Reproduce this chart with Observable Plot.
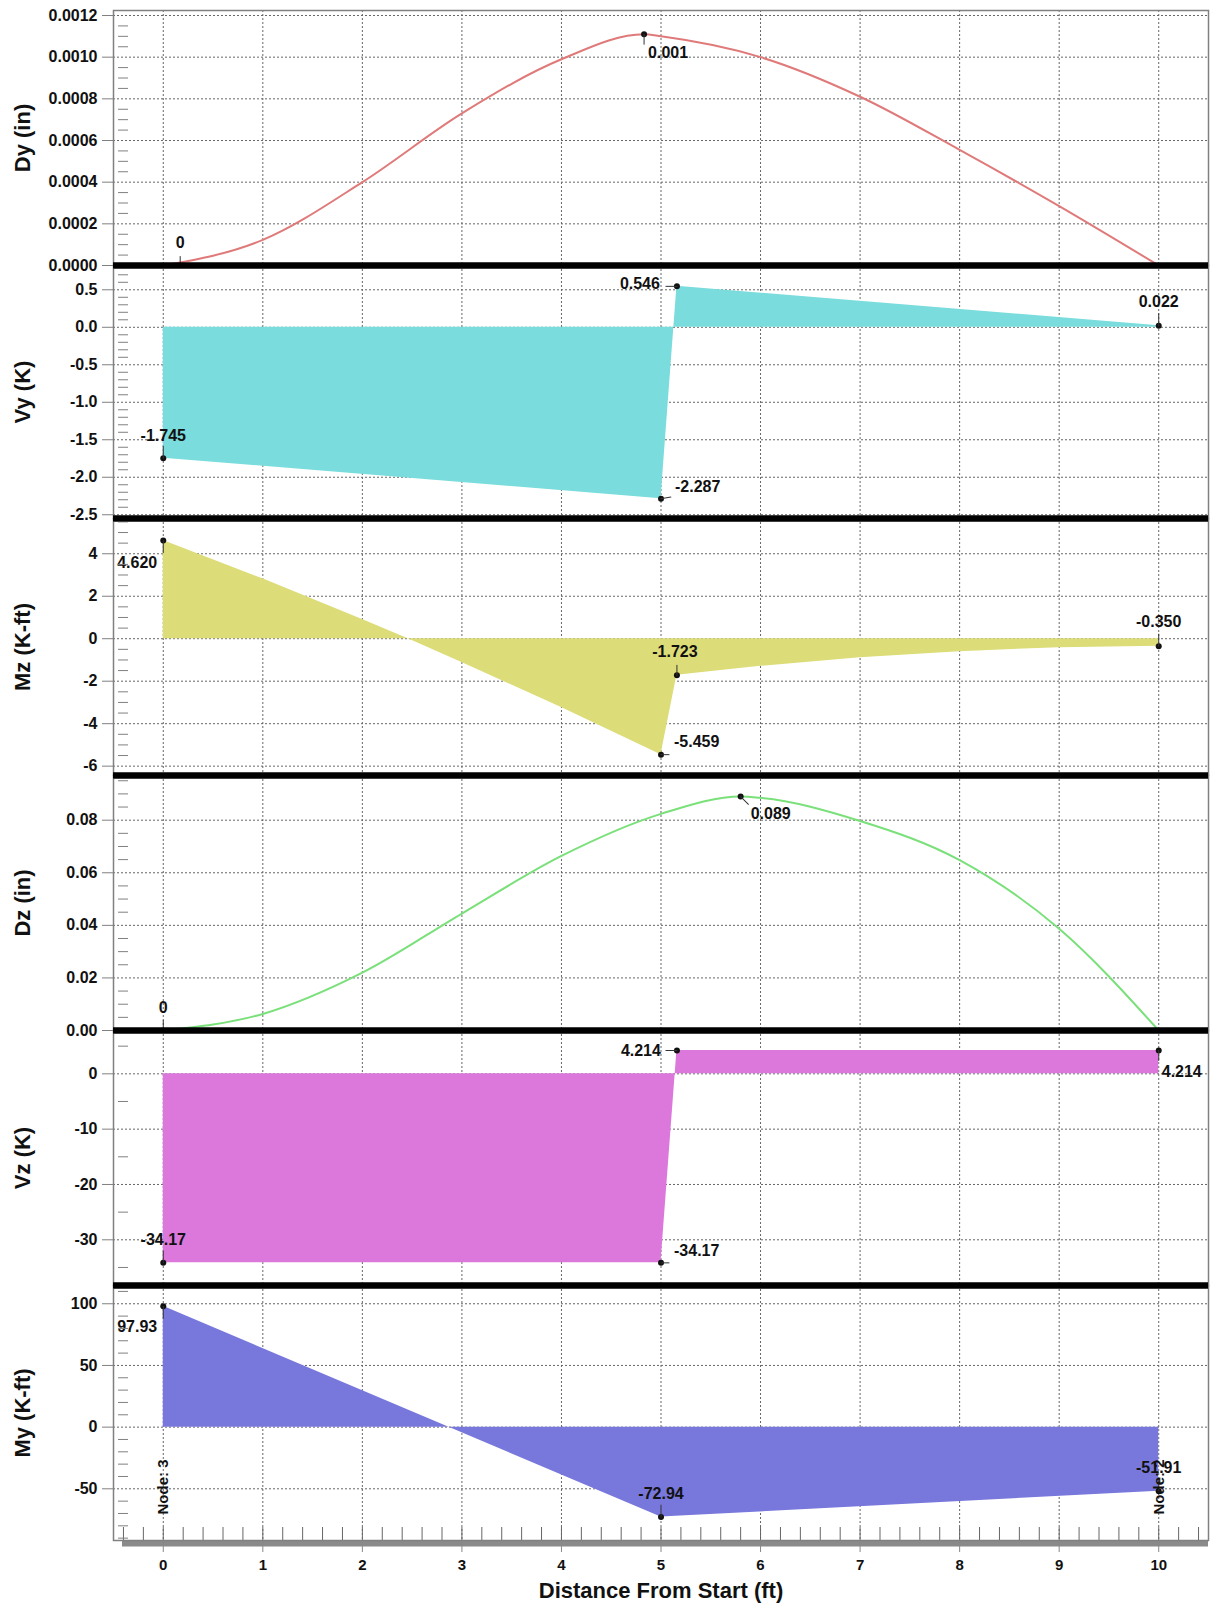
<!DOCTYPE html>
<html>
<head>
<meta charset="utf-8">
<script src="https://cdn.jsdelivr.net/npm/d3@7"></script>
<script src="https://cdn.jsdelivr.net/npm/@observablehq/plot@0.6"></script>
<style>
  body { margin: 0; background: #fff; }
  #chart { width: 1211px; position: relative; }
  #chart svg { display: block; overflow: visible; }
</style>
</head>
<body>
<div id="chart"></div>
<script>
// ---------------- data ----------------
const xTicks = [0, 1, 2, 3, 4, 5, 6, 7, 8, 9, 10];
const xTickLabels = ["0", "1", "2", "3", "4", "5", "6", "7", "8", "9", "10"];
const xTitle = "Distance From Start (ft)";

// Dy (in)
const dyX   = [0, 1, 2, 3, 4, 4.83, 5, 6, 7, 8, 9, 10];
const dyVal = [0, 0.000123, 0.0004, 0.00073, 0.00099, 0.00111, 0.0011, 0.001, 0.00081, 0.000555, 0.000285, 0];
const dyNotes = [
  {x: 0.17, y: 0, label: "0"},
  {x: 4.83, y: 0.00111, label: "0.001"}
];
const dyTicks = [0, 0.0002, 0.0004, 0.0006, 0.0008, 0.0010, 0.0012];

// Vy (K)
const vyX   = [0, 5, 5.16, 10];
const vyVal = [-1.745, -2.287, 0.546, 0.022];
const vyNotes = [
  {x: 0, y: -1.745, label: "-1.745"},
  {x: 5, y: -2.287, label: "-2.287"},
  {x: 5.16, y: 0.546, label: "0.546"},
  {x: 10, y: 0.022, label: "0.022"}
];
const vyTicks = [0.5, 0, -0.5, -1, -1.5, -2, -2.5];

// Mz (K-ft)
const mzX   = [0, 1, 2, 2.46, 3, 4, 5, 5.16, 6, 7, 8, 9, 10];
const mzVal = [4.62, 2.82, 0.9, 0, -1.12, -3.24, -5.459, -1.723, -1.3, -0.9, -0.61, -0.42, -0.35];
const mzNotes = [
  {x: 0, y: 4.62, label: "4.620"},
  {x: 5.16, y: -1.723, label: "-1.723"},
  {x: 5, y: -5.459, label: "-5.459"},
  {x: 10, y: -0.35, label: "-0.350"}
];
const mzTicks = [4, 2, 0, -2, -4, -6];

// Dz (in)
const dzX   = [0, 1, 2, 3, 4, 5, 5.8, 6, 7, 8, 9, 10];
const dzVal = [0, 0.0063, 0.022, 0.0445, 0.0664, 0.0824, 0.089, 0.0885, 0.0797, 0.0648, 0.0387, 0];
const dzNotes = [
  {x: 0, y: 0, label: "0"},
  {x: 5.8, y: 0.089, label: "0.089"}
];
const dzTicks = [0, 0.02, 0.04, 0.06, 0.08];

// Vz (K)
const vzX   = [0, 5, 5.16, 10];
const vzVal = [-34.17, -34.17, 4.214, 4.214];
const vzNotes = [
  {x: 0, y: -34.17, label: "-34.17"},
  {x: 5, y: -34.17, label: "-34.17"},
  {x: 5.16, y: 4.214, label: "4.214"},
  {x: 10, y: 4.214, label: "4.214"}
];
const vzTicks = [0, -10, -20, -30];

// My (K-ft)
const myX   = [0, 5, 10];
const myVal = [97.93, -72.94, -51.91];
const myNotes = [
  {x: 0, y: 97.93, label: "97.93"},
  {x: 5, y: -72.94, label: "-72.94"},
  {x: 10, y: -51.91, label: "-51.91"}
];
const myTicks = [100, 50, 0, -50];

const nodeLabels = [{x: 0, label: "Node: 3"}, {x: 10, label: "Node: 2"}];

// ---------------- layout / style ----------------
const FONT = "'Liberation Sans', Arial, Helvetica, sans-serif";
const GRID = "#666";
const AXIS = "#808080";
const W = 1211, ML = 113, MR = 3;

// leader line shape for annotation ticks
const leader = {draw(ctx, l) { ctx.moveTo(0, 0); ctx.lineTo(0, -l); }};

function rows(xs, ys) { return xs.map((x, i) => ({x, y: ys[i]})); }
function minorRange(lo, hi, step) {
  const out = [];
  for (let k = Math.ceil(lo / step - 1e-9); k * step <= hi + 1e-9; k++) out.push(+(k * step).toFixed(6));
  return out;
}

// per-annotation placement: text offset, anchor, leader direction/length
function noteMarks(notes, layout) {
  const out = [];
  notes.forEach((n, i) => {
    const L = layout[i];
    if (L.dot !== false) out.push(Plot.dot([n], {x: "x", y: "y", r: 3, fill: "#111"}));
    out.push(Plot.vector([n], {x: "x", y: "y", length: L.len, rotate: L.rot, anchor: "start",
      shape: leader, stroke: "#333", strokeWidth: 1}));
    out.push(Plot.text([n], {x: "x", y: "y", text: "label", dx: L.dx || 0, dy: L.dy || 0,
      textAnchor: L.anchor || "middle", fontSize: 16, fontWeight: "bold", fill: "#111"}));
  });
  return out;
}

function panel({height, marginTop = 0, marginBottom = 0, domain, ticks, fmt, minorStep, title, marks, first = false, last = false}) {
  const minor = minorRange(domain[0], domain[1], minorStep).filter(v => !ticks.some(t => Math.abs(t - v) < minorStep / 10));
  return Plot.plot({
    width: W, height, marginLeft: ML, marginRight: MR, marginTop, marginBottom,
    style: {overflow: "visible", fontFamily: FONT, background: "transparent"},
    x: {domain: [-0.5, 10.5], axis: null},
    y: {domain, axis: null},
    marks: [
      Plot.gridX(xTicks, {stroke: GRID, strokeOpacity: 1, strokeDasharray: "2,2", strokeWidth: 1}),
      Plot.gridY(ticks, {stroke: GRID, strokeOpacity: 1, strokeDasharray: "2,2", strokeWidth: 1}),
      ...marks,
      Plot.frame({stroke: AXIS, strokeWidth: 1.5}),
      Plot.axisY(ticks, {anchor: "left", tickSize: 11, tickPadding: 5, tickFormat: fmt,
        fontSize: 16, fontWeight: "bold", stroke: AXIS, fill: "#111", label: null}),
      Plot.axisY(minor, {anchor: "left", tickSize: 10, dx: 15, tickFormat: () => "",
        stroke: AXIS, fill: "none", label: null}),
      Plot.text([title], {frameAnchor: "left", rotate: -90, dx: -91, text: d => d,
        textAnchor: "middle", lineAnchor: "middle",
        fontSize: 22, fontWeight: "bold", fill: "#111"}),
      last ? null : Plot.ruleY([domain[0]], {stroke: "#000", strokeWidth: 6}),
      first ? null : Plot.ruleY([domain[1]], {stroke: "#000", strokeWidth: 6})
    ]
  });
}

const chart = document.getElementById("chart");

// Dy
chart.append(panel({
  height: 265, marginTop: 10, domain: [0, 0.001224], ticks: dyTicks, fmt: d => d.toFixed(4), minorStep: 0.00005,
  title: "Dy (in)", first: true,
  marks: [
    Plot.line(rows(dyX, dyVal), {x: "x", y: "y", stroke: "#e07a7a", strokeWidth: 2, curve: "monotone-x"}),
    ...noteMarks(dyNotes, [
      {dot: false, len: 9, rot: 0, dy: -23},
      {len: 10, rot: 180, dx: 4, dy: 19, anchor: "start"}
    ])
  ]
}));

// Vy
chart.append(panel({
  height: 253, domain: [-2.55, 0.824], ticks: vyTicks, fmt: d => d.toFixed(1), minorStep: 0.1,
  title: "Vy (K)",
  marks: [
    Plot.areaY(rows(vyX, vyVal), {x: "x", y: "y", fill: "#7adcdc", fillOpacity: 1}),
    ...noteMarks(vyNotes, [
      {len: 12, rot: 0, dy: -22},
      {len: 10, rot: 80, dx: 14, dy: -12, anchor: "start"},
      {len: 11, rot: 270, dx: -17, dy: -2, anchor: "end"},
      {len: 12, rot: 0, dy: -24}
    ])
  ]
}));

// Mz
chart.append(panel({
  height: 257, domain: [-6.44, 5.66], ticks: mzTicks, fmt: d => String(d), minorStep: 0.5,
  title: "Mz (K-ft)",
  marks: [
    Plot.areaY(rows(mzX, mzVal), {x: "x", y: "y", fill: "#dcdc78", fillOpacity: 1}),
    ...noteMarks(mzNotes, [
      {len: 12, rot: 180, dx: -6, dy: 22, anchor: "end"},
      {len: 10, rot: 0, dx: -2, dy: -23},
      {len: 8, rot: 90, dx: 13, dy: -13, anchor: "start"},
      {len: 12, rot: 0, dy: -24}
    ])
  ]
}));

// Dz
chart.append(panel({
  height: 255, domain: [0, 0.097], ticks: dzTicks, fmt: d => d.toFixed(2), minorStep: 0.005,
  title: "Dz (in)",
  marks: [
    Plot.line(rows(dzX, dzVal), {x: "x", y: "y", stroke: "#7ae07a", strokeWidth: 2, curve: "monotone-x"}),
    ...noteMarks(dzNotes, [
      {dot: false, len: 10, rot: 0, dy: -23},
      {len: 11, rot: 135, dx: 10, dy: 17, anchor: "start"}
    ])
  ]
}));

// Vz
chart.append(panel({
  height: 255, domain: [-38.26, 7.83], ticks: vzTicks, fmt: d => String(d), minorStep: 5,
  title: "Vz (K)",
  marks: [
    Plot.areaY(rows(vzX, vzVal), {x: "x", y: "y", fill: "#dc78dc", fillOpacity: 1}),
    ...noteMarks(vzNotes, [
      {len: 12, rot: 0, dy: -23},
      {len: 8, rot: 90, dx: 13, dy: -12, anchor: "start"},
      {len: 11, rot: 270, dx: -16, dy: 0, anchor: "end"},
      {len: 10, rot: 180, dx: 3, dy: 21, anchor: "start"}
    ])
  ]
}));

// My (with x axis)
const xMinor = minorRange(-0.4, 10.4, 0.2);
chart.append(panel({
  height: 321, marginBottom: 66, domain: [-91.9, 114.8], ticks: myTicks, fmt: d => String(d), minorStep: 10,
  title: "My (K-ft)", last: true,
  marks: [
    Plot.areaY(rows(myX, myVal), {x: "x", y: "y", fill: "#7878dc", fillOpacity: 1}),
    ...noteMarks(myNotes, [
      {len: 12, rot: 180, dx: -6, dy: 21, anchor: "end"},
      {len: 12, rot: 0, dy: -23},
      {len: 12, rot: 0, dy: -23}
    ]),
    Plot.text(nodeLabels, {x: "x", frameAnchor: "bottom", dy: -26, rotate: -90, text: "label",
      textAnchor: "start", lineAnchor: "middle", fontSize: 15, fontWeight: "bold", fill: "#111"}),
    Plot.axisX(xMinor, {anchor: "bottom", tickSize: 13, dy: -13, tickFormat: () => "", fill: "none",
      stroke: "#666", label: null}),
    Plot.ruleY([-91.9], {stroke: "#8a8a8a", strokeWidth: 6, insetLeft: 9, dy: 3}),
    Plot.axisX(xTicks, {anchor: "bottom", tickSize: 12, tickPadding: 7, tickFormat: (d, i) => xTickLabels[i],
      fontSize: 15, fontWeight: "bold", stroke: "#888", fill: "#111", label: null}),
    Plot.text([xTitle], {frameAnchor: "bottom", dy: 50, text: d => d, textAnchor: "middle", lineAnchor: "middle",
      fontSize: 22, fontWeight: "bold", fill: "#111"})
  ]
}));
</script>
</body>
</html>
